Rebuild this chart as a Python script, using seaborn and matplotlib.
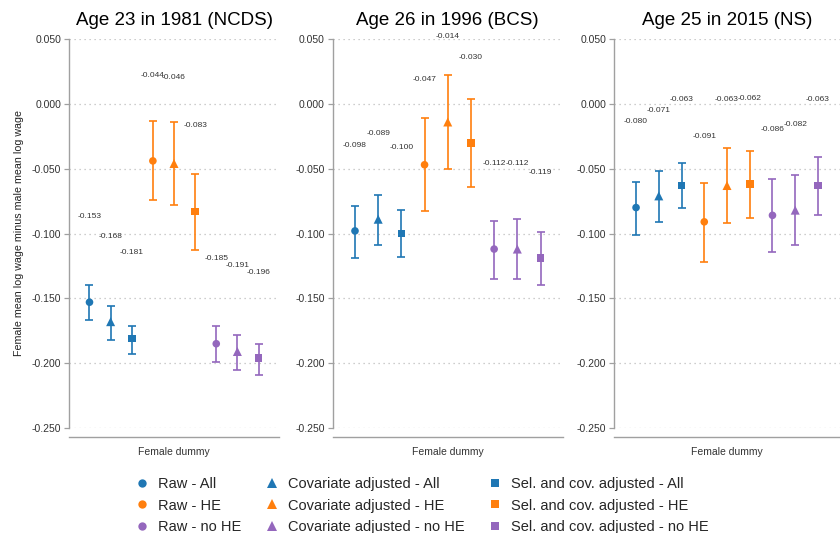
import pandas as pd
import numpy as np
import matplotlib
matplotlib.use("Agg")
import matplotlib.pyplot as plt
from matplotlib.lines import Line2D
import seaborn as sns

# Panels (cohorts)
titles = ["Age 23 in 1981 (NCDS)", "Age 26 in 1996 (BCS)", "Age 25 in 2015 (NS)"]
samples = ["All", "HE", "no HE"]
methods = ["Raw", "Covariate adjusted", "Sel. and cov. adjusted"]

# order within each panel: All (Raw, Cov, Sel), HE (Raw, Cov, Sel), no HE (Raw, Cov, Sel)
est_ncds = [-0.153, -0.168, -0.181, -0.044, -0.046, -0.083, -0.185, -0.191, -0.196]
lo_ncds = [-0.167, -0.182, -0.193, -0.074, -0.078, -0.113, -0.199, -0.205, -0.209]
hi_ncds = [-0.140, -0.156, -0.171, -0.013, -0.014, -0.054, -0.171, -0.178, -0.185]

est_bcs = [-0.098, -0.089, -0.100, -0.047, -0.014, -0.030, -0.112, -0.112, -0.119]
lo_bcs = [-0.119, -0.109, -0.118, -0.083, -0.050, -0.064, -0.135, -0.135, -0.140]
hi_bcs = [-0.079, -0.070, -0.082, -0.011, 0.022, 0.004, -0.090, -0.089, -0.099]

est_ns = [-0.080, -0.071, -0.063, -0.091, -0.063, -0.062, -0.086, -0.082, -0.063]
lo_ns = [-0.101, -0.091, -0.080, -0.122, -0.092, -0.088, -0.114, -0.109, -0.086]
hi_ns = [-0.060, -0.052, -0.046, -0.061, -0.034, -0.036, -0.058, -0.055, -0.041]

y_ticks = [0.05, 0.0, -0.05, -0.10, -0.15, -0.20, -0.25]

tab = sns.color_palette("tab10")
colors = dict(zip(samples, [tab[0], tab[1], tab[4]]))
markers = dict(zip(methods, ["o", "^", "s"]))
msizes = dict(zip(methods, [30, 42, 30]))

rows = []
for p, (e, lo, hi) in enumerate([(est_ncds, lo_ncds, hi_ncds),
                                  (est_bcs, lo_bcs, hi_bcs),
                                  (est_ns, lo_ns, hi_ns)]):
    for k in range(9):
        rows.append(dict(panel=p, sample=samples[k // 3], method=methods[k % 3],
                         order=k, est=e[k], lo=lo[k], hi=hi[k]))
df = pd.DataFrame(rows)
df["x"] = 1 + (df["order"] - 4) * 0.1

sns.set_theme(style="white")
plt.rcParams["font.family"] = ["Liberation Sans", "DejaVu Sans"]

fig = plt.figure(figsize=(8.4, 5.33), dpi=100)
W, H = 840, 533
boxes = [(69, 279), (332.5, 563), (614, 840)]
top_px, bot_px = 39, 428
grey = "#a0a0a0"

for p, (l, r) in enumerate(boxes):
    ax = fig.add_axes([l / W, 1 - bot_px / H, (r - l) / W, (bot_px - top_px) / H])
    d = df[df.panel == p]
    for _, row in d.iterrows():
        c = colors[row["sample"]]
        ax.errorbar(row["x"], row["est"],
                    yerr=[[row["est"] - row["lo"]], [row["hi"] - row["est"]]],
                    fmt="none", ecolor=c, elinewidth=1.2, capsize=2.8, capthick=1.2, zorder=2)
        ax.text(row["x"], row["est"] + 0.066, f"{row['est']:.3f}", ha="center", va="center",
                fontsize=6, color="#333333")
    sns.scatterplot(data=d, x="x", y="est", hue="sample", style="method",
                    size="method", sizes=msizes,
                    palette=colors, markers=markers, linewidth=0,
                    legend=False, ax=ax, zorder=3)
    ax.set_xlim(0.503, 1.497)
    ax.set_ylim(-0.25, 0.05)
    ax.set_yticks(y_ticks)
    ax.set_yticklabels([f"{t:.3f}" for t in y_ticks], fontsize=7.5, color="#333333")
    for t in y_ticks:
        ax.axhline(t, color="#bdbdbd", lw=0.9, ls=(0, (1, 3)), zorder=0)
    ax.set_xticks([1])
    ax.set_xticklabels([""])
    ax.tick_params(axis="x", direction="in", length=3, color=grey, width=0.9)
    ax.tick_params(axis="y", direction="out", length=3.5, color=grey, width=0.9, pad=2, left=True)
    ax.set_xlabel("Female dummy", fontsize=7.5, color="#333333", labelpad=4)
    ax.set_ylabel("")
    for s in ["top", "right"]:
        ax.spines[s].set_visible(False)
    ax.spines["left"].set_bounds(-0.25, 0.05)
    ax.spines["bottom"].set_position(("outward", 6.5))
    for s in ["left", "bottom"]:
        ax.spines[s].set_color(grey)
        ax.spines[s].set_linewidth(1.0)
    ax.set_title(titles[p], fontsize=13.5, pad=10, color="black")
    if p == 0:
        ax.set_ylabel("Female mean log wage minus male mean log wage", fontsize=7.7,
                      color="#222222", labelpad=6)

handles, labels = [], []
for m in methods:
    for s in samples:
        handles.append(Line2D([], [], ls="none", marker=markers[m], color=colors[s],
                              markersize=7 if markers[m] == "^" else 6, markeredgewidth=0))
        labels.append(f"{m} - {s}")
fig.legend(handles, labels, ncol=3, frameon=False, loc="upper left",
           bbox_to_anchor=(127 / W, 1 - 470 / H), fontsize=10.5, borderpad=0,
           handlelength=1.0, handletextpad=0.6, columnspacing=1.6, labelspacing=0.5)

fig.savefig("out.png", dpi=100)
